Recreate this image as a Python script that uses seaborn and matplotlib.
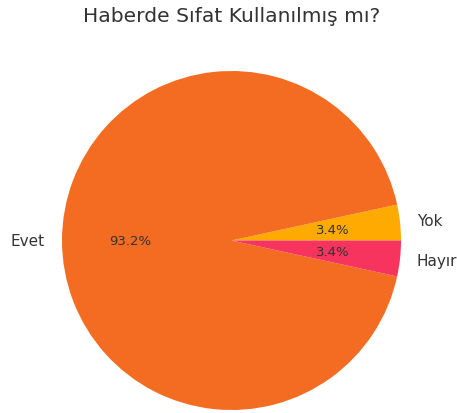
import matplotlib
matplotlib.use("Agg")
import matplotlib.pyplot as plt
import seaborn as sns

# Data
labels = ["Yok", "Evet", "Hayır"]
shares = [3.4, 93.2, 3.4]
colors = ["#FFAA00", "#F36C21", "#F7345E"]

sns.set_style("white")
plt.rcParams['font.family'] = ['DejaVu Sans']
text_color = "#333333"

fig = plt.figure(figsize=(4.57, 4.14), dpi=100)
ax = fig.add_axes([62 / 457, 3 / 414, 339 / 457, 339 / 414])

wedges, texts, autotexts = ax.pie(
    shares, labels=labels, colors=colors, autopct='%1.1f%%',
    startangle=0, labeldistance=1.1, pctdistance=0.6,
    wedgeprops={'linewidth': 0, 'edgecolor': 'none'},
    textprops={'color': text_color, 'fontsize': 11},
)
for t in autotexts:
    t.set_fontsize(9.5)
ax.set_xlim(-1, 1)
ax.set_ylim(-1, 1)
ax.set_aspect('equal')

# title centred over the pie, like the original
fig.suptitle('Haberde Sıfat Kullanılmış mı?', fontsize=14.6, color=text_color,
             x=232 / 457, y=0.982)

plt.savefig('out.png', dpi=100)
